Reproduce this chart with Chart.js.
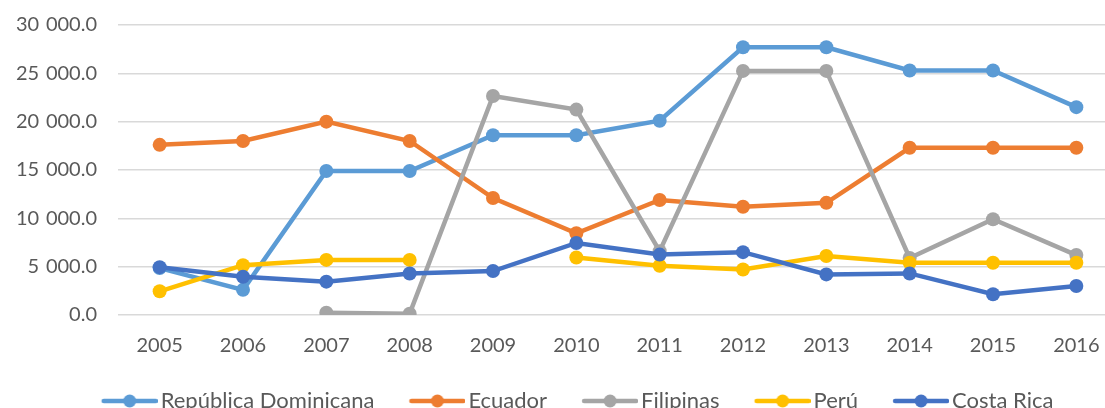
<!DOCTYPE html>
<html>
<head>
<meta charset="utf-8">
<script src="https://cdn.jsdelivr.net/npm/chart.js@4/dist/chart.umd.min.js"></script>
<style>
  html, body { margin: 0; padding: 0; background: #fff; overflow: hidden; }
  #wrap { position: relative; width: 1150px; height: 430px; margin-top: -8px; }
</style>
</head>
<body>
<div id="wrap"><canvas id="c"></canvas></div>
<script>
const years = ['2005','2006','2007','2008','2009','2010','2011','2012','2013','2014','2015','2016'];
const republicaDominicana = [4850, 2600, 14900, 14900, 18600, 18600, 20100, 27700, 27700, 25300, 25300, 21500];
const ecuador = [17600, 18000, 20000, 18000, 12100, 8450, 11900, 11200, 11600, 17300, 17300, 17300];
const filipinas = [null, null, 240, 140, 22650, 21250, 6600, 25250, 25250, 5900, 9900, 6200];
const peru = [2450, 5150, 5700, 5700, null, 5950, 5100, 4700, 6100, 5400, 5400, 5400];
const costaRica = [4950, 3950, 3450, 4300, 4550, 7450, 6250, 6500, 4200, 4300, 2150, 3000];
const seriesNames = ['República Dominicana', 'Ecuador', 'Filipinas', 'Perú', 'Costa Rica'];
const seriesColors = ['#5B9BD5', '#ED7D31', '#A5A5A5', '#FFC000', '#4472C4'];
const seriesData = [republicaDominicana, ecuador, filipinas, peru, costaRica];

const BOXW = 70;
function legendMarker(color) {
  const W = BOXW + 16;
  const cv = document.createElement('canvas');
  cv.width = W; cv.height = 16;
  const g = cv.getContext('2d');
  g.strokeStyle = color; g.lineWidth = 4.5; g.lineCap = 'round';
  g.beginPath(); g.moveTo(W - 54, 8); g.lineTo(W - 2, 8); g.stroke();
  g.fillStyle = color; g.beginPath(); g.arc(W - 28, 8, 6.5, 0, Math.PI * 2); g.fill();
  return cv;
}

function fmt(v) {
  const s = Number(v).toFixed(1);
  const [i, d] = s.split('.');
  return i.replace(/\B(?=(\d{3})+(?!\d))/g, '\u2004') + '.' + d;
}

const FONT = 'Lato, "Open Sans", sans-serif';
const GREY = '#595959';

new Chart(document.getElementById('c'), {
  type: 'line',
  data: {
    labels: years,
    datasets: seriesData.map((d, i) => ({
      label: seriesNames[i],
      data: d,
      borderColor: seriesColors[i],
      backgroundColor: seriesColors[i],
      pointBackgroundColor: seriesColors[i],
      pointBorderWidth: 0,
      pointRadius: 7,
      pointHoverRadius: 7,
      borderWidth: 4.5,
      tension: 0,
      spanGaps: false,
      order: seriesData.length - i,
      markerImg: legendMarker(seriesColors[i])
    }))
  },
  options: {
    responsive: true,
    maintainAspectRatio: false,
    animation: false,
    layout: { padding: { top: 4, right: 32, left: 15, bottom: 0 } },
    plugins: {
      tooltip: { enabled: false },
      legend: {
        position: 'bottom',
        labels: {
          usePointStyle: true,
          pointStyleWidth: BOXW,
          padding: 13,
          color: GREY,
          font: { family: FONT, size: 22 },
          generateLabels: (chart) => chart.data.datasets.map((ds, i) => ({
            text: ds.label,
            fillStyle: ds.borderColor,
            strokeStyle: ds.borderColor,
            lineWidth: 0,
            pointStyle: ds.markerImg,
            hidden: false,
            datasetIndex: i,
            fontColor: GREY
          }))
        }
      }
    },
    scales: {
      x: {
        offset: true,
        grid: { display: false, drawTicks: false },
        border: { display: false },
        ticks: { color: GREY, font: { family: FONT, size: 20 }, padding: 19, maxRotation: 0 }
      },
      y: {
        min: 0, max: 30000,
        afterFit: (s) => { s.width = 103; },
        grid: { color: '#D9D9D9', lineWidth: 1.5, drawTicks: false },
        border: { display: false },
        ticks: { stepSize: 5000, color: GREY, font: { family: FONT, size: 20 }, padding: 21, callback: (v) => fmt(v) }
      }
    }
  }
});
</script>
</body>
</html>
